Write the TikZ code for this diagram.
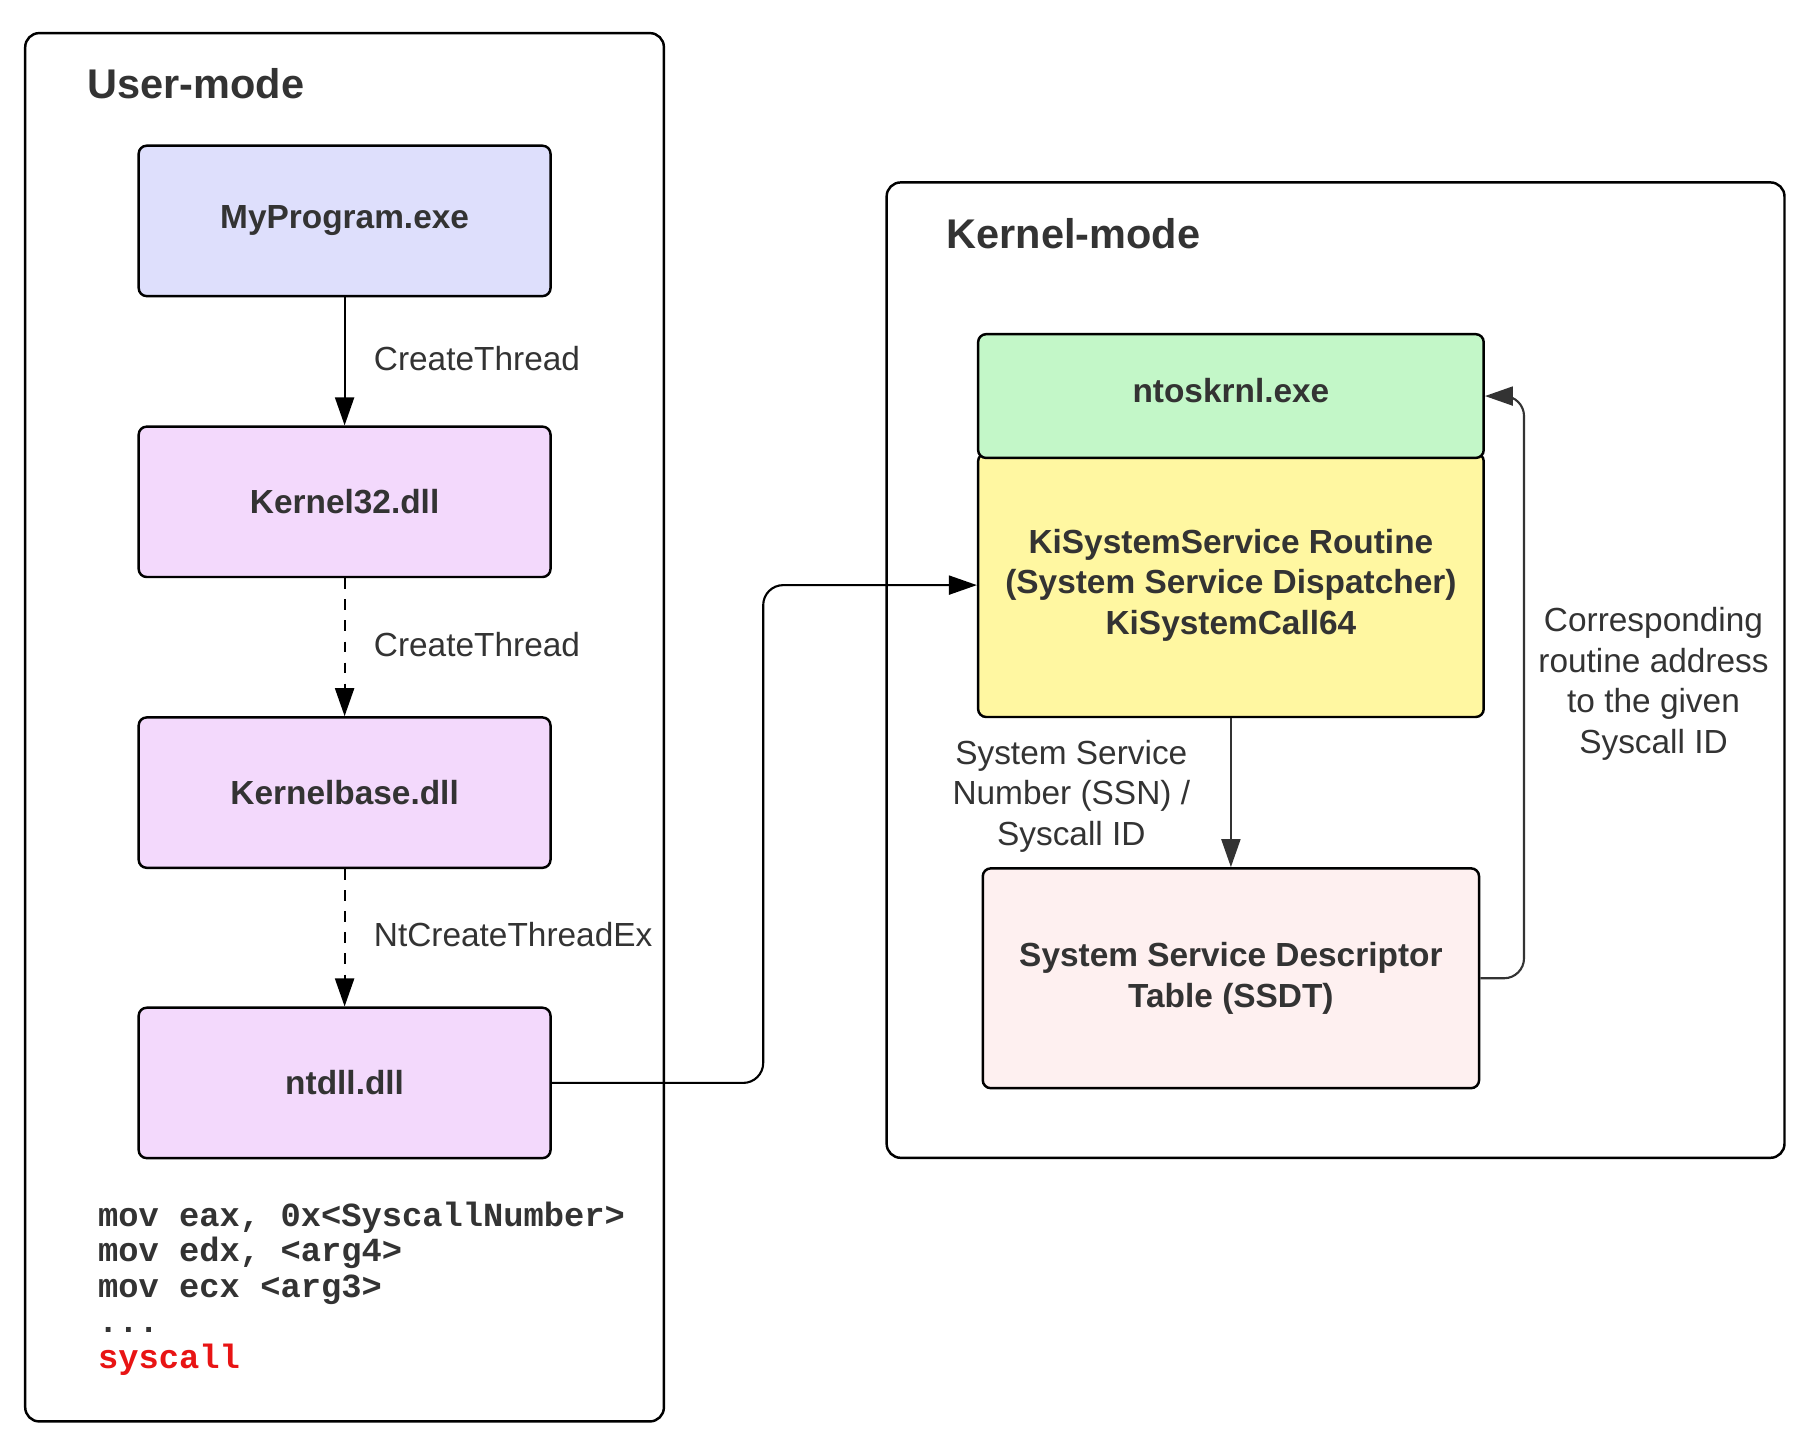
\documentclass[tikz,border=0pt]{standalone}
\usepackage{fontspec}
\setmainfont{Liberation Sans}
\newfontfamily\codefont{Liberation Mono}
\usetikzlibrary{arrows.meta,positioning}
\definecolor{textgray}{HTML}{333333}
\definecolor{progfill}{HTML}{DEDFFC}
\definecolor{dllfill}{HTML}{F3D9FC}
\definecolor{ntfill}{HTML}{C3F7C8}
\definecolor{kifill}{HTML}{FFF7A1}
\definecolor{ssdtfill}{HTML}{FEF0F0}
\definecolor{syscallred}{HTML}{E81414}
\begin{document}
\begin{tikzpicture}[x=0.01cm,y=-0.01cm,>={Triangle[length=0.28cm,width=0.19cm]},
  every node/.style={font=\fontsize{9.5}{11.5}\selectfont,text=textgray},
  panel/.style={draw,line width=0.7pt,rounded corners=0.14cm},
  box/.style={draw,line width=0.7pt,rounded corners=0.08cm,align=center,font=\bfseries\fontsize{9.5}{11.5}\selectfont},
  title/.style={anchor=west,inner sep=0pt,font=\bfseries\fontsize{11.8}{14}\selectfont},
  link/.style={->,line width=0.6pt}]
\useasboundingbox (0,0) rectangle (1813,1451);
% containers
\node[panel,minimum width=6.383cm,minimum height=13.875cm] (user) at (344.55,727.25) {};
\node[panel,minimum width=8.973cm,minimum height=9.748cm] (kernel) at (1335.55,670.1) {};
\node[title] (usertitle) at (86.7,83.3) {User-mode};
\node[title] (kerneltitle) at (945.9,233.6) {Kernel-mode};
% user-mode chain
\node[box,fill=progfill,minimum width=4.116cm,minimum height=1.503cm] (myprog) at (344.6,220.9) {MyProgram.exe};
\node[box,fill=dllfill,minimum width=4.116cm,minimum height=1.503cm] (k32) at (344.6,501.8) {Kernel32.dll};
\node[box,fill=dllfill,minimum width=4.116cm,minimum height=1.503cm] (kbase) at (344.6,792.6) {Kernelbase.dll};
\node[box,fill=dllfill,minimum width=4.116cm,minimum height=1.503cm] (ntdll) at (344.6,1082.9) {ntdll.dll};
\draw[link] (myprog) -- node[right,xshift=0.165cm,yshift=0.03cm] {CreateThread} (k32);
\draw[link,dashed] (k32) -- node[right,xshift=0.165cm,yshift=0.03cm] {CreateThread} (kbase);
\draw[link,dashed] (kbase) -- node[right,xshift=0.165cm,yshift=0.03cm] {NtCreateThreadEx} (ntdll);
\node[anchor=west,inner sep=0pt,align=left,font={\codefont\bfseries\fontsize{9.6}{10.12}\selectfont\lineskiplimit=-10pt}] (code) at (97.5,1288.5)
  {mov eax, 0x<SyscallNumber>\\mov edx, <arg4>\\mov ecx <arg3>\\...\\{\color{syscallred}syscall}};
% kernel-mode
\node[box,fill=kifill,minimum width=5.053cm,minimum height=2.636cm] (kisys) at (1230.9,585.1)
  {KiSystemService Routine\\(System Service Dispatcher)\\KiSystemCall64};
\node[box,fill=ntfill,minimum width=5.053cm,minimum height=1.237cm,text depth=0.12cm] (ntos) at (1230.9,396.05) {ntoskrnl.exe};
\node[box,fill=ssdtfill,minimum width=4.96cm,minimum height=2.197cm] (ssdt) at (1230.9,978.25)
  {System Service Descriptor\\Table (SSDT)};
\coordinate (callbend) at (763.2,0);
\coordinate (retbend) at (1524,0);
\draw[link,rounded corners=0.2cm] (ntdll.east) -- (ntdll.east -| callbend) |- (kisys.west);
\draw[link,draw=textgray,fill=textgray] (kisys) -- node[left,xshift=-0.28cm,yshift=-0.035cm,align=center] {System Service\\Number (SSN) /\\Syscall ID} (ssdt);
\draw[link,draw=textgray,rounded corners=0.2cm,-{Triangle[length=0.28cm,width=0.19cm,fill=textgray]}] (ssdt.east) -- (ssdt.east -| retbend) |- (ntos.east);
\node[align=center] (retlbl) at (1653.5,684) {Corresponding\\routine address\\to the given\\Syscall ID};
\end{tikzpicture}
\end{document}
